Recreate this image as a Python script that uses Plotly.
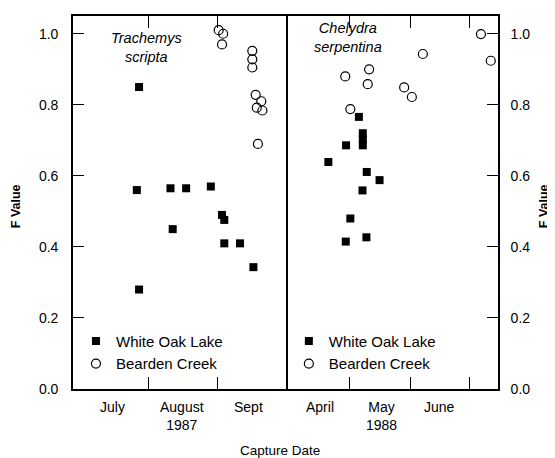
import plotly.graph_objects as go

# ---------------- data ----------------
# Trachemys scripta, 1987
ts_wol_dates = ["1987-07-28", "1987-07-27", "1987-07-28", "1987-08-11", "1987-08-12",
                "1987-08-18", "1987-08-29", "1987-09-03", "1987-09-04", "1987-09-04",
                "1987-09-11", "1987-09-17"]
ts_wol_f = [0.85, 0.56, 0.28, 0.565, 0.45, 0.565, 0.57, 0.49, 0.476, 0.41, 0.41, 0.343]

ts_bc_dates = ["1987-09-01 12:00", "1987-09-03 12:00", "1987-09-03", "1987-09-16 12:00",
               "1987-09-16 12:00", "1987-09-16 12:00", "1987-09-18", "1987-09-20 12:00",
               "1987-09-18 12:00", "1987-09-21", "1987-09-19"]
ts_bc_f = [1.01, 1.0, 0.97, 0.952, 0.928, 0.905, 0.828, 0.81, 0.792, 0.784, 0.69]

# Chelydra serpentina, 1988
cs_wol_dates = ["1988-05-06", "1988-05-08", "1988-05-08", "1988-05-08", "1988-04-29 12:00",
                "1988-04-20 12:00", "1988-05-10", "1988-05-16 12:00", "1988-05-07 20:00",
                "1988-05-01 16:00", "1988-04-29 08:00", "1988-05-09 20:00"]
cs_wol_f = [0.766, 0.72, 0.703, 0.686, 0.686, 0.639, 0.611, 0.588, 0.559, 0.48, 0.415, 0.427]

cs_bc_dates = ["1988-07-07", "1988-07-12", "1988-06-07 12:00", "1988-04-29 02:00",
               "1988-05-11 05:00", "1988-05-10 12:00", "1988-05-29", "1988-06-01 22:00",
               "1988-05-01 16:00"]
cs_bc_f = [0.999, 0.924, 0.943, 0.88, 0.9, 0.858, 0.849, 0.822, 0.788]

left_range = ["1987-06-28 13:00", "1987-10-02 10:00"]
right_range = ["1988-03-31", "1988-07-15 16:00"]
left_month_ticks = ["1987-08-01", "1987-09-01"]
right_month_ticks = ["1988-05-01", "1988-06-01", "1988-07-01"]
left_month_labels = ["July", "August<br>1987", "Sept"]
left_month_pos = ["1987-07-16", "1987-08-16", "1987-09-15"]
right_month_labels = ["April", "May<br>1988", "June"]
right_month_pos = ["1988-04-16", "1988-05-17 12:00", "1988-06-16"]
y_ticks = [0.0, 0.2, 0.4, 0.6, 0.8, 1.0]
series_names = ["White Oak Lake", "Bearden Creek"]

FONT = "Liberation Sans, Arial, Helvetica, sans-serif"

sq = dict(symbol="square", size=8, color="black", line=dict(width=0))
circ = dict(symbol="circle-open", size=9, color="black", line=dict(width=1.2, color="black"))

fig = go.Figure()
fig.add_trace(go.Scatter(x=ts_wol_dates, y=ts_wol_f, mode="markers", marker=sq,
                         name=series_names[0], xaxis="x", yaxis="y", legend="legend"))
fig.add_trace(go.Scatter(x=ts_bc_dates, y=ts_bc_f, mode="markers", marker=circ,
                         name=series_names[1], xaxis="x", yaxis="y", legend="legend"))
fig.add_trace(go.Scatter(x=cs_wol_dates, y=cs_wol_f, mode="markers", marker=sq,
                         name=series_names[0], xaxis="x2", yaxis="y2", legend="legend2"))
fig.add_trace(go.Scatter(x=cs_bc_dates, y=cs_bc_f, mode="markers", marker=circ,
                         name=series_names[1], xaxis="x2", yaxis="y2", legend="legend2"))

# page is offset by the 8px body margin: plot area spans page x 73..498, y 14..389
W, H = 547, 450
ML, MT = 65, 6
MR, MB = W - 490, H - 381
PW = W - ML - MR
PH = H - MT - MB
split = (288 - 73) / PW

xcommon = dict(type="date", showgrid=False, zeroline=False, showline=True, linecolor="black",
               linewidth=1.6, mirror="ticks", ticks="inside", ticklen=12, tickwidth=1.2,
               tickcolor="black", showticklabels=False, tickmode="array")
ycommon = dict(range=[0, 1.05], showgrid=False, zeroline=False, showline=True, linecolor="black",
               linewidth=1.6, ticks="inside", ticklen=11, tickwidth=1.2,
               tickcolor="black", tickmode="array", tickvals=y_ticks, tickformat=".1f",
               tickfont=dict(family=FONT, size=14, color="black"))

annotations = []
for lab, pos in zip(left_month_labels, left_month_pos):
    annotations.append(dict(x=pos, y=0, xref="x", yref="paper", text=lab, showarrow=False,
                            xanchor="center", yanchor="top", yshift=-8,
                            font=dict(family=FONT, size=14, color="black")))
for lab, pos in zip(right_month_labels, right_month_pos):
    annotations.append(dict(x=pos, y=0, xref="x2", yref="paper", text=lab, showarrow=False,
                            xanchor="center", yanchor="top", yshift=-8,
                            font=dict(family=FONT, size=14, color="black")))
annotations += [
    dict(x=(280 - 73) / PW, y=0, xref="paper", yref="paper", text="Capture Date",
         showarrow=False, xanchor="center", yanchor="middle", yshift=-61,
         font=dict(family=FONT, size=13.5, color="black")),
    dict(x=0, y=0.49, xref="paper", yref="paper", text="<b>F Value</b>", showarrow=False,
         textangle=-90, xanchor="center", yanchor="middle", xshift=-57,
         font=dict(family=FONT, size=12.5, color="black")),
    dict(x=1, y=0.49, xref="paper", yref="paper", text="<b>F Value</b>", showarrow=False,
         textangle=-90, xanchor="center", yanchor="middle", xshift=46,
         font=dict(family=FONT, size=12.5, color="black")),
    dict(x=(146 - 73) / PW, y=(389 - 45.5) / PH, xref="paper", yref="paper",
         text="<i>Trachemys</i><br><i>scripta</i>", showarrow=False,
         xanchor="center", yanchor="middle",
         font=dict(family=FONT, size=14.5, color="black")),
    dict(x=(348 - 73) / PW, y=(389 - 35.5) / PH, xref="paper", yref="paper",
         text="<i>Chelydra</i><br><i>serpentina</i>", showarrow=False,
         xanchor="center", yanchor="middle",
         font=dict(family=FONT, size=14.5, color="black")),
]

legend_style = dict(font=dict(family=FONT, size=15, color="black"), bgcolor="rgba(0,0,0,0)",
                    borderwidth=0, xanchor="left", yanchor="top", itemwidth=30,
                    tracegroupgap=0)

fig.update_layout(
    width=W, height=H,
    margin=dict(l=ML, r=MR, t=MT, b=MB),
    paper_bgcolor="white", plot_bgcolor="white",
    font=dict(family=FONT, size=14, color="black"),
    xaxis=dict(xcommon, domain=[0, split], range=left_range, tickvals=left_month_ticks,
               anchor="y"),
    xaxis2=dict(xcommon, domain=[split, 1], range=right_range, tickvals=right_month_ticks,
                anchor="y2"),
    yaxis=dict(ycommon, anchor="x", side="left", mirror=False, ticklabelstandoff=10),
    yaxis2=dict(ycommon, anchor="x2", side="right", mirror=True, ticklabelstandoff=8),
    legend=dict(legend_style, x=0.007, y=0.172),
    legend2=dict(legend_style, x=split + 0.002, y=0.172),
    annotations=annotations,
    showlegend=True,
)

fig.write_html("out.html")
